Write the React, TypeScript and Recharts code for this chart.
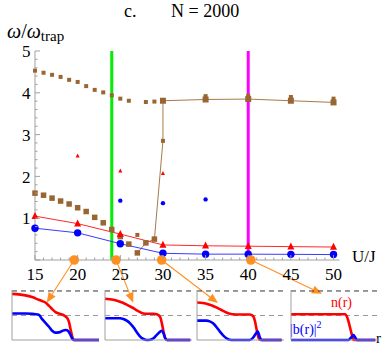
import React from 'react';
import { ComposedChart, LineChart, Line, Scatter, XAxis, YAxis, ReferenceLine } from 'recharts';

const SERIF = '"Liberation Serif", "Times New Roman", serif';

// ---- main chart data ----
const U_MODE = [15, 20, 25, 30, 35, 40, 45, 50];
const RED_MODE = [1.05, 0.87, 0.62, 0.36, 0.34, 0.33, 0.32, 0.31];
const BLUE_MODE = [0.76, 0.65, 0.39, 0.16, 0.14, 0.14, 0.135, 0.13];

const U_RED_SMALL = [20, 25, 30];
const RED_SMALL = [2.49, 2.13, 2.07];
const U_BLUE_SMALL = [25, 30, 35];
const BLUE_SMALL = [1.42, 1.36, 1.45];

const U_BROWN_UPPER = [15, 16, 17, 18, 19, 20, 21, 22, 23, 24, 25, 26, 28, 29];
const BROWN_UPPER = [4.53, 4.48, 4.43, 4.38, 4.31, 4.26, 4.16, 4.07, 4.01, 3.94, 3.86, 3.81, 3.78, 3.79];
const U_BROWN_LOWER = [15, 16, 17, 18, 19, 20, 21, 22, 23, 24, 25, 26];
const BROWN_LOWER = [1.6, 1.55, 1.48, 1.41, 1.34, 1.25, 1.16, 1.02, 0.89, 0.73, 0.56, 0.38];
const U_BROWN_LINE = [27, 28, 29, 30, 30, 35, 40, 45, 50];
const BROWN_LINE = [0.17, 0.41, 0.5, 2.85, 3.81, 3.84, 3.85, 3.81, 3.77];
const BROWN_LINE_SIZE = [5.5, 5.5, 5.5, 4, 6, 6, 6, 6, 6];
const U_BROWN_EXTRA = [27, 35, 40, 45, 50];
const BROWN_EXTRA = [0.6, 3.92, 3.93, 3.9, 3.86];

const U_MARKS = [19.6, 24.5, 29.85, 40.3];
const U_GREEN = 24;
const U_MAGENTA = 40;
// arrow tips (U/J, ω) pointing to the insets
const ARROW_TIP_U = [16.37, 26.52, 36.45, 48.65];
const ARROW_TIP_W = [-1.02, -1.02, -1.03, -0.81];

const X_TICKS = Array.from({ length: 36 }, (_, i) => 15 + i);
const Y_TICKS = Array.from({ length: 26 }, (_, i) => Math.round(i * 2) / 10);

// ---- inset data (radius r, density n(r), condensate |b(r)|^2) ----
const P1_R = [0, 2, 4, 6, 8, 9, 10, 11, 12, 13, 14, 15, 16, 16.5, 17, 17.5, 18, 18.5, 19, 22, 26];
const P1_N = [1.88, 1.86, 1.82, 1.75, 1.64, 1.59, 1.53, 1.4, 1.26, 1.14, 1.08, 1.04, 0.96, 0.9, 0.75, 0.44, 0.14, 0, 0, 0, 0];
const P1_B = [1.08, 1.08, 1.08, 1.07, 1.03, 0.85, 0.7, 0.55, 0.38, 0.3, 0.31, 0.37, 0.41, 0.4, 0.33, 0.2, 0.05, 0, 0, 0, 0];

const P2_R = [0, 2.5, 4.5, 5.5, 6.5, 7.5, 8.5, 9.5, 10.5, 11.5, 12.5, 13.5, 14.5, 15.5, 16.5, 17, 17.5, 18, 18.5, 19, 25.5];
const P2_N = [1.68, 1.64, 1.56, 1.51, 1.44, 1.37, 1.3, 1.21, 1.14, 1.08, 1.07, 1.07, 1.07, 1.05, 0.93, 0.68, 0.34, 0.07, 0, 0, 0];
const P2_B = [0.89, 0.89, 0.89, 0.86, 0.79, 0.68, 0.52, 0.32, 0.14, 0.04, 0, 0.01, 0.07, 0.21, 0.34, 0.38, 0.27, 0.07, 0, 0, 0];

const P3_R = [0, 1.8, 2.8, 3.8, 4.8, 5.8, 6.8, 7.8, 8.8, 9.8, 10.8, 11.8, 15.8, 16.8, 17.3, 17.8, 18.1, 18.3, 18.8, 19.3, 25.3];
const P3_N = [1.53, 1.51, 1.48, 1.44, 1.39, 1.33, 1.26, 1.19, 1.12, 1.07, 1.05, 1.04, 1.04, 0.97, 0.78, 0.44, 0.25, 0.13, 0.01, 0, 0];
const P3_B = [0.79, 0.79, 0.79, 0.76, 0.68, 0.53, 0.35, 0.19, 0.07, 0.01, 0, 0, 0, 0.1, 0.2, 0.3, 0.34, 0.3, 0.1, 0, 0];

const P4_R = [0, 16.2, 16.7, 17.2, 17.7, 18.2, 18.7, 19.2, 19.7, 25.2];
const P4_N = [1.05, 1.05, 0.96, 0.75, 0.48, 0.21, 0, 0, 0, 0];
const P4_B = [0, 0, 0, 0, 0.06, 0.14, 0.2, 0.1, 0, 0];

const PANEL_LEFT = [11.7, 105, 197.3, 291];

const pts = (us: number[], vs: number[]) => us.map((u, i) => ({ u, v: vs[i] }));

const BROWN = '#996633';
const ORANGE = '#ff9020';
const AXIS = '#a0a0a0';

const square = (s: number) => (p: any) => (
  <rect key={`sq-${p.index}-${p.cx}`} x={p.cx - s / 2} y={p.cy - s / 2} width={s} height={s} fill={BROWN} />
);

const brownLineDot = (p: any) => {
  const s = BROWN_LINE_SIZE[p.index] ?? 5;
  return <rect key={`bl-${p.index}`} x={p.cx - s / 2} y={p.cy - s / 2} width={s} height={s} fill={BROWN} />;
};

const triangle = (s: number) => (p: any) => (
  <polygon
    key={`tr-${p.index}-${p.cx}`}
    points={`${p.cx},${p.cy - s * 0.6} ${p.cx - s / 2},${p.cy + s * 0.4} ${p.cx + s / 2},${p.cy + s * 0.4}`}
    fill="#ff0000"
  />
);

const circle = (r: number) => (p: any) => (
  <circle key={`ci-${p.index}-${p.cx}`} cx={p.cx} cy={p.cy} r={r} fill="#0000ff" />
);

const YTick = (props: any) => {
  const { x, y, payload } = props;
  const v = payload.value;
  const major = Math.abs(v - Math.round(v)) < 1e-6;
  return (
    <g>
      <line x1={x} x2={x + (major ? 5 : 2.5)} y1={y} y2={y} stroke={AXIS} />
      {major && v > 0 && (
        <text x={x - 4.5} y={y} dy="0.36em" textAnchor="end" fontFamily={SERIF} fontSize={17} fill="#000">
          {v}
        </text>
      )}
    </g>
  );
};

const XTick = (props: any) => {
  const { x, y, payload } = props;
  const v = payload.value;
  const major = v % 5 === 0;
  return (
    <g>
      <line x1={x} x2={x} y1={y} y2={y - (major ? 5 : 2.5)} stroke={AXIS} />
      {major && (
        <text x={x} y={y + 20} textAnchor="middle" fontFamily={SERIF} fontSize={17} fill="#000">
          {v}
        </text>
      )}
    </g>
  );
};

const arrowShape = (props: any) => {
  const { x1, y1, x2, y2 } = props;
  const dx = x2 - x1;
  const dy = y2 - y1;
  const len = Math.sqrt(dx * dx + dy * dy) || 1;
  const ux = dx / len;
  const uy = dy / len;
  const L = 10;
  const W = 4.2;
  const bx = x2 - ux * L;
  const by = y2 - uy * L;
  return (
    <g>
      <line x1={x1} y1={y1} x2={bx} y2={by} stroke={ORANGE} strokeWidth={1.1} />
      <polygon
        points={`${x2},${y2} ${bx - uy * W},${by + ux * W} ${bx + uy * W},${by - ux * W}`}
        fill={ORANGE}
      />
    </g>
  );
};

const Inset = ({ left, r, n, b }: { left: number; r: number[]; n: number[]; b: number[] }) => {
  const data = r.map((rv, i) => ({ r: rv, n: n[i], b: b[i] }));
  return (
    <div style={{ position: 'absolute', left: left - 4, top: 288 }}>
      <LineChart width={99} height={57} data={data} margin={{ top: 2, right: 8, bottom: 0, left: 0 }}>
        <XAxis type="number" dataKey="r" domain={[0, 26]} height={5} tick={false} tickLine={false} axisLine={{ stroke: AXIS }} />
        <YAxis type="number" domain={[0, 2.04]} width={4} tick={false} tickLine={false} axisLine={{ stroke: AXIS }} />
        <ReferenceLine y={2} stroke="#333" strokeDasharray="5 4" />
        <ReferenceLine y={1} stroke="#999" strokeDasharray="5 4" />
        <Line dataKey="n" type="monotone" stroke="#ff0000" strokeWidth={2.6} dot={false} isAnimationActive={false} />
        <Line dataKey="b" type="monotone" stroke="#0000ff" strokeWidth={2.6} dot={false} isAnimationActive={false} />
      </LineChart>
    </div>
  );
};

export default function App() {
  return (
    <div style={{ position: 'absolute', left: 0, top: 0, width: 387, height: 350, background: '#fff' }}>
      <ComposedChart width={387} height={350} margin={{ top: 51, right: 47.5, bottom: 60, left: 5 }}>
        <XAxis
          type="number"
          dataKey="u"
          domain={[15, 50.7]}
          ticks={X_TICKS}
          interval={0}
          height={30}
          tickSize={0}
          tickMargin={0}
          tickLine={false}
          axisLine={{ stroke: AXIS }}
          tick={XTick}
        />
        <YAxis
          type="number"
          dataKey="v"
          domain={[0, 5]}
          ticks={Y_TICKS}
          interval={0}
          width={30}
          tickSize={0}
          tickMargin={0}
          tickLine={false}
          axisLine={{ stroke: AXIS }}
          tick={YTick}
        />
        <ReferenceLine x={U_GREEN} stroke="#00ee00" strokeWidth={3} />
        <ReferenceLine x={U_MAGENTA} stroke="#ff00ff" strokeWidth={3} />

        <Line data={pts(U_BROWN_LINE, BROWN_LINE)} dataKey="v" stroke="#a87a4a" strokeWidth={1} dot={brownLineDot} isAnimationActive={false} />
        <Scatter data={pts(U_BROWN_UPPER, BROWN_UPPER)} dataKey="v" shape={square(4)} isAnimationActive={false} />
        <Scatter data={pts(U_BROWN_LOWER, BROWN_LOWER)} dataKey="v" shape={square(5.5)} isAnimationActive={false} />
        <Scatter data={pts(U_BROWN_EXTRA, BROWN_EXTRA)} dataKey="v" shape={square(4)} isAnimationActive={false} />

        <Line data={pts(U_MODE, RED_MODE)} dataKey="v" stroke="#ff2a2a" strokeWidth={1} dot={triangle(7)} isAnimationActive={false} />
        <Line data={pts(U_MODE, BLUE_MODE)} dataKey="v" stroke="#3a3aff" strokeWidth={1} dot={circle(3.7)} isAnimationActive={false} />
        <Scatter data={pts(U_RED_SMALL, RED_SMALL)} dataKey="v" shape={triangle(4)} isAnimationActive={false} />
        <Scatter data={pts(U_BLUE_SMALL, BLUE_SMALL)} dataKey="v" shape={circle(2.2)} isAnimationActive={false} />

        {U_MARKS.map((u, i) => (
          <ReferenceLine
            key={`arr-${i}`}
            segment={[{ x: u, y: 0 }, { x: ARROW_TIP_U[i], y: ARROW_TIP_W[i] }]}
            ifOverflow="visible"
            stroke={ORANGE}
            shape={arrowShape}
          />
        ))}
        <Scatter
          data={U_MARKS.map((u) => ({ u, v: 0 }))}
          dataKey="v"
          shape={(p: any) => <circle key={`om-${p.index}`} cx={p.cx} cy={p.cy} r={4.8} fill={ORANGE} />}
          isAnimationActive={false}
        />

        <text x={124} y={17} fontFamily={SERIF} fontSize={18} fill="#000">c.</text>
        <text x={171} y={17} fontFamily={SERIF} fontSize={18} fill="#000">N = 2000</text>
        <text x={7} y={38} fontFamily={SERIF} fontSize={20} fill="#000">
          <tspan fontStyle="italic">ω</tspan>
          <tspan>/</tspan>
          <tspan fontStyle="italic">ω</tspan>
          <tspan fontSize={15} dy={3}>trap</tspan>
        </text>
        <text x={352} y={262} fontFamily={SERIF} fontSize={17} fill="#000">U/J</text>
        <text x={331} y={307} fontFamily={SERIF} fontSize={14} fill="#ff0000">n(r)</text>
        <text x={290} y={334} fontFamily={SERIF} fontSize={14} fill="#0000ff">
          |b(r)|<tspan fontSize={10} dy={-6}>2</tspan>
        </text>
        <text x={376} y={343} fontFamily={SERIF} fontSize={15} fill="#000">r</text>
      </ComposedChart>

      <Inset left={PANEL_LEFT[0]} r={P1_R} n={P1_N} b={P1_B} />
      <Inset left={PANEL_LEFT[1]} r={P2_R} n={P2_N} b={P2_B} />
      <Inset left={PANEL_LEFT[2]} r={P3_R} n={P3_N} b={P3_B} />
      <Inset left={PANEL_LEFT[3]} r={P4_R} n={P4_N} b={P4_B} />
    </div>
  );
}
